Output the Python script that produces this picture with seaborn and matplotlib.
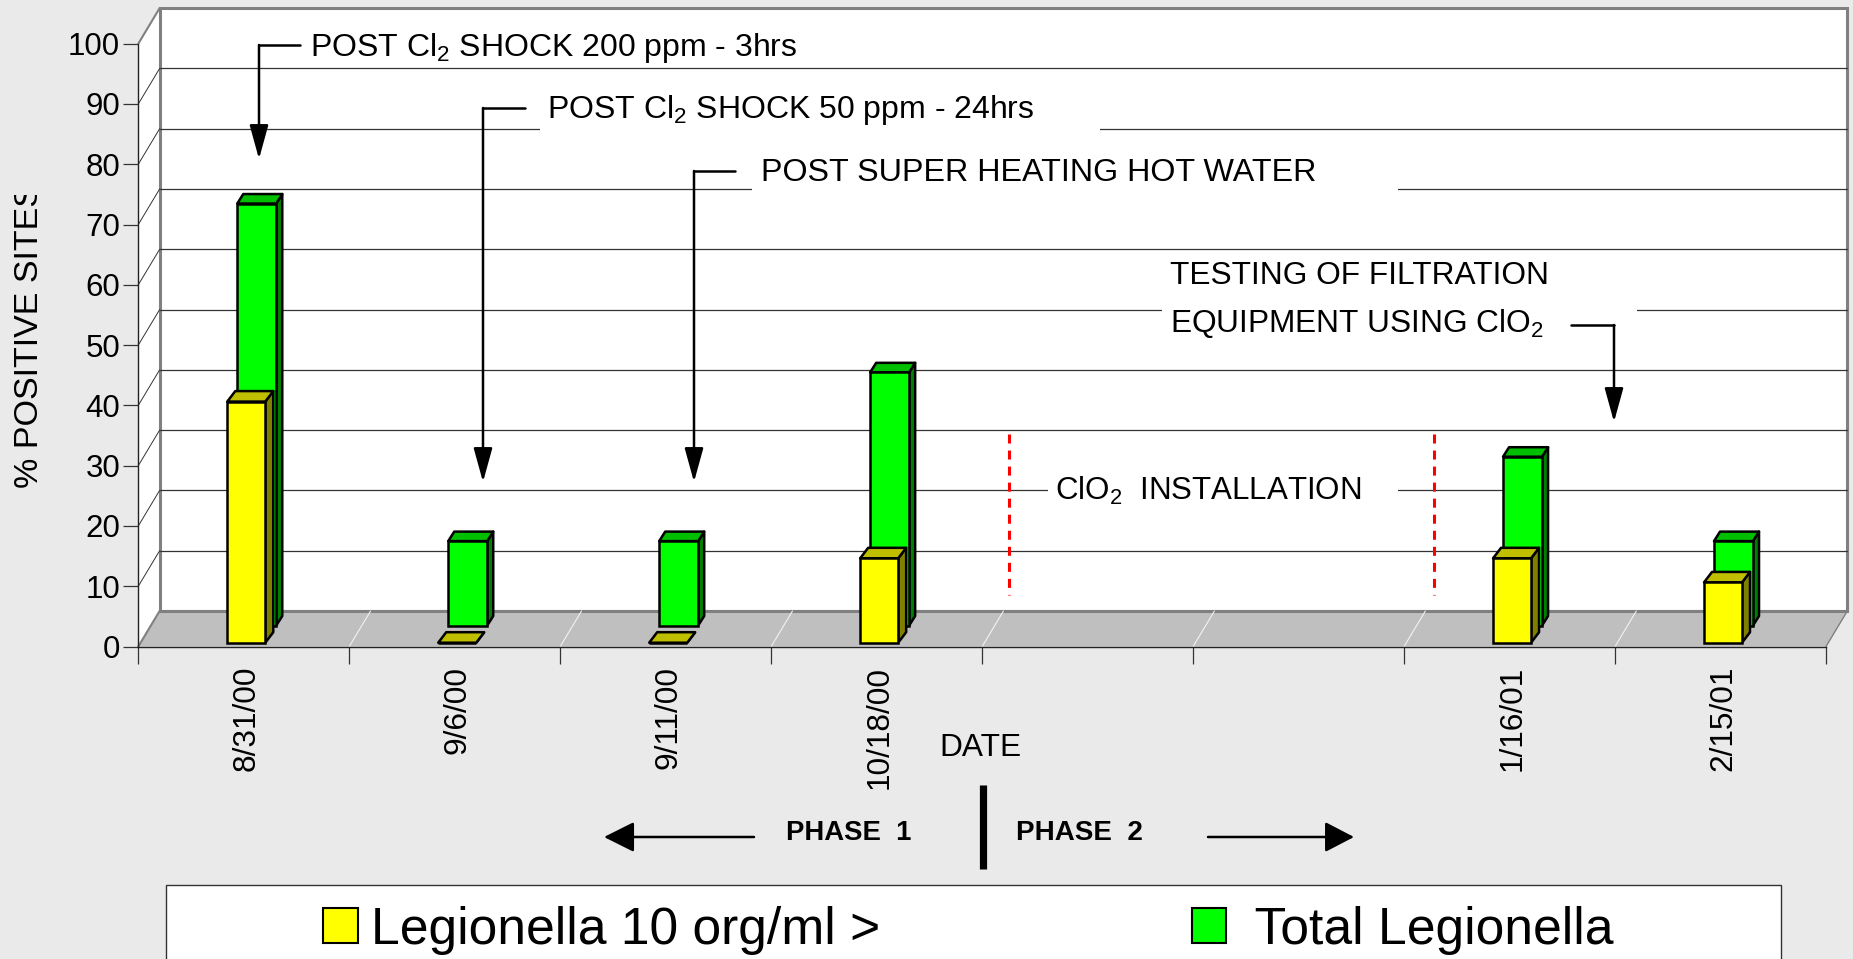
import numpy as np
import pandas as pd
import matplotlib
matplotlib.use('Agg')
import matplotlib.pyplot as plt
import seaborn as sns
from matplotlib.lines import Line2D
from matplotlib.patches import Patch, Polygon, Rectangle
from matplotlib.transforms import Affine2D, Bbox

# Chart values
dates = ['8/31/00', '9/6/00', '9/11/00', '10/18/00', ' ', '  ', '1/16/01', '2/15/01']
legionella_10 = [40, 0, 0, 14, np.nan, np.nan, 14, 10]
total_legionella = [70, 14, 14, 42, np.nan, np.nan, 28, 14]
y_ticks = [0, 10, 20, 30, 40, 50, 60, 70, 80, 90, 100]

W, H = 1853, 959
BG = '#EAEAEA'
# front plane of the fake 3d box, in pixels
LEFT, RIGHT, BOTTOM, TOP = 138.3, 1826.0, 646.5, 43.7
SLOT = (RIGHT - LEFT) / len(dates)
UNIT = (BOTTOM - TOP) / 100.0
DEPTH_X, DEPTH_Y = 21.3 / SLOT, 35.5 / UNIT

sns.set_theme(style='white')
plt.rcParams['font.family'] = ['Liberation Sans']
plt.rcParams['mathtext.default'] = 'regular'

fig = plt.figure(figsize=(W / 100, H / 100), dpi=100, facecolor=BG)
ax = fig.add_axes([LEFT / W, 1 - BOTTOM / H, (RIGHT - LEFT) / W, (BOTTOM - TOP) / H])
ax.patch.set_visible(False)
px = Affine2D().scale(1, -1).translate(0, H)  # pixel coords, origin top left


def bars_3d(values, color, side, top, width_px, shift_px, base_px, dx_px, dy_px, zorder):
    df = pd.DataFrame({'date': dates, 'value': values})
    n_before = len(ax.patches)
    sns.barplot(data=df, x='date', y='value', order=dates, color=color, saturation=1,
                width=width_px / SLOT, edgecolor='black', linewidth=1.8, errorbar=None,
                zorder=zorder, ax=ax)
    dx, dy = dx_px / SLOT, dy_px / UNIT
    for p in list(ax.patches[n_before:]):
        if not np.isfinite(p.get_height()):
            continue
        p.set_x(p.get_x() + shift_px / SLOT)
        p.set_y(base_px / UNIT)
        p.set_clip_on(False)
        x0, x1 = p.get_x(), p.get_x() + p.get_width()
        y0, y1 = p.get_y(), p.get_y() + p.get_height()
        ax.add_patch(Polygon([(x1, y0), (x1 + dx, y0 + dy), (x1 + dx, y1 + dy), (x1, y1)],
                             facecolor=side, edgecolor='black', lw=1.8, zorder=zorder,
                             joinstyle='round', clip_on=False))
        ax.add_patch(Polygon([(x0, y1), (x0 + dx, y1 + dy), (x1 + dx, y1 + dy), (x1, y1)],
                             facecolor=top, edgecolor='black', lw=1.8, zorder=zorder,
                             joinstyle='round', clip_on=False))
        p.set_zorder(zorder + 0.1)


bars_3d(total_legionella, '#00FF00', '#008000', '#00BF00', 39, 13, 21, 6, 9.5, 4)
bars_3d(legionella_10, '#FFFF00', '#808000', '#BFBF00', 38, 2.5, 3.8, 8, 10.5, 5)

ax.set_xlim(-0.5, len(dates) - 0.5)
ax.set_ylim(0, 100)

# walls and floor
x_a, x_b = -0.5, len(dates) - 0.5
ax.add_patch(Polygon([(x_a, 0), (x_a + DEPTH_X, DEPTH_Y), (x_a + DEPTH_X, 100 + DEPTH_Y), (x_a, 100)],
                     facecolor='white', edgecolor='none', zorder=0.5, clip_on=False))
ax.add_patch(Rectangle((x_a + DEPTH_X, DEPTH_Y), x_b - x_a, 100, facecolor='white',
                       edgecolor='#808080', lw=2.2, zorder=0.5, clip_on=False))
ax.add_patch(Polygon([(x_a, 0), (x_a + DEPTH_X, DEPTH_Y), (x_b + DEPTH_X, DEPTH_Y), (x_b, 0)],
                     facecolor='#BFBFBF', edgecolor='none', zorder=0.6, clip_on=False))
ax.plot([x_a + DEPTH_X, x_b + DEPTH_X], [DEPTH_Y, DEPTH_Y], color='#808080', lw=2.2, zorder=0.65, clip_on=False)
for v in y_ticks:
    if 0 < v < 100:
        ax.plot([x_a + DEPTH_X, x_b + DEPTH_X], [v + DEPTH_Y, v + DEPTH_Y], color='#333333', lw=0.9,
                zorder=0.7, clip_on=False)
        ax.plot([x_a, x_a + DEPTH_X], [v, v + DEPTH_Y], color='#333333', lw=0.7, zorder=0.7, clip_on=False)
ax.plot([x_a, x_a + DEPTH_X], [100, 100 + DEPTH_Y], color='#808080', lw=1.5, zorder=0.7, clip_on=False)
ax.plot([x_a, x_a + DEPTH_X], [0, DEPTH_Y], color='#808080', lw=1.5, zorder=0.7, clip_on=False)
ax.plot([x_b, x_b + DEPTH_X], [0, DEPTH_Y], color='#808080', lw=1, zorder=0.7, clip_on=False)
for k in range(1, len(dates)):
    ax.plot([k - 0.5, k - 0.5 + DEPTH_X], [0, DEPTH_Y], color='#F2F2F2', lw=0.8, zorder=0.7, clip_on=False)

# axes furniture
sns.despine(ax=ax, top=True, right=True)
for side in ['left', 'bottom']:
    ax.spines[side].set_visible(True)
    ax.spines[side].set_linewidth(1.0)
    ax.spines[side].set_color('#222222')
ax.set_yticks(y_ticks)
ax.set_yticklabels([str(v) for v in y_ticks], fontsize=22.5, color='black')
ax.tick_params(axis='y', left=True, length=11, width=0.9, color='#333333', pad=2)
ax.set_xticks(np.arange(len(dates) + 1) - 0.5)
ax.set_xticklabels([])
ax.set_xticks(np.arange(len(dates)) + 3 / SLOT, dates, minor=True)
ax.tick_params(axis='x', which='major', bottom=True, length=12.5, width=0.9, color='#333333')
ax.tick_params(axis='x', which='minor', bottom=False, length=0, pad=14, labelsize=22.8, labelrotation=90,
               labelcolor='black')
ax.set_xlabel('')
ax.set_ylabel('')


def label(x, y, s, size=23, ha='left', weight='normal', **kw):
    return fig.text(x, y, s, transform=px, fontsize=size, ha=ha, va='center', color='black',
                    fontweight=weight, **kw)


def line(xs, ys, **kw):
    kw.setdefault('color', 'black')
    kw.setdefault('lw', 1.8)
    fig.add_artist(Line2D(xs, ys, transform=px, **kw))


def arrow(start, end, head_len=29, head_w=8):
    ax.annotate('', xy=end, xytext=start, xycoords=px, textcoords=px, annotation_clip=False,
                arrowprops=dict(arrowstyle=f'-|>,head_length={head_len * 0.72},head_width={head_w * 0.72}',
                                color='black', lw=1.8, shrinkA=0, shrinkB=0, mutation_scale=1),
                zorder=8)


# white boxes behind the notes cut the wall grid lines
for x0, y0, x1, y1 in [(540, 88, 1100, 135), (752, 150, 1398, 195), (1162, 255, 1637, 320), (1048, 468, 1398, 510)]:
    fig.add_artist(Rectangle((x0, y0), x1 - x0, y1 - y0, transform=px, facecolor='white', edgecolor='none'))

# notes and leaders
label(310, 48, 'POST Cl$_2$ SHOCK 200 ppm - 3hrs')
line([300, 259], [45, 45])
arrow((259, 45), (259, 159))
label(547, 110, 'POST Cl$_2$ SHOCK 50 ppm - 24hrs')
line([525, 483], [108, 108])
arrow((483, 108), (483, 482))
label(761, 173, 'POST SUPER HEATING HOT WATER', size=23.2)
line([735, 694], [171, 171])
arrow((694, 171), (694, 482))
label(1170, 276, 'TESTING OF FILTRATION', size=22.8)
label(1170, 323, 'EQUIPMENT USING ClO$_2$', size=22.8)
line([1571, 1614], [325, 325])
arrow((1614, 325), (1614, 422))
label(1055, 491, 'ClO$_2$  INSTALLATION', size=22.5)
for x in [1009, 1433.5]:
    line([x, x], [434, 595], color='#FF0000', lw=2.2, linestyle=(0, (2.95, 2.3)))

label(980, 748, 'DATE', ha='center', size=22.8)

# phase markers
line([983, 983], [785, 869], lw=5.2, solid_capstyle='butt')
label(786, 833, 'PHASE  1', size=19.8, weight='bold')
label(1016, 833, 'PHASE  2', size=20, weight='bold')
arrow((754, 837), (604, 837), head_len=26, head_w=13)
arrow((1208, 837), (1354, 837), head_len=25, head_w=13)

# y label, its top end is cut off in the source
ylab = fig.text(30, 488, '% POSITIVE SITES', transform=px, rotation=90, fontsize=24.5, ha='center',
                va='bottom', color='black')
ylab.set_clip_box(Bbox([[0, 0], [W, H - 195]]))
ylab.set_clip_on(True)

# legend, box runs off the bottom of the figure
fig.add_artist(Rectangle((165.5, 885), 1615.5, 90, transform=px, facecolor='white', edgecolor='#333333', lw=1))
handles = [Patch(facecolor='#FFFF00', edgecolor='black', lw=1.5),
           Patch(facecolor='#00FF00', edgecolor='black', lw=1.5)]
leg = fig.legend(handles, ['Legionella 10 org/ml >', '\u2009\u200aTotal Legionella'], ncol=2, frameon=False,
                 loc='upper left', bbox_to_anchor=(323 / W, 1 - 906 / H), fontsize=37.2, borderpad=0,
                 borderaxespad=0, handlelength=0.67, handleheight=0.67, handletextpad=0.26,
                 columnspacing=6.03, labelcolor='black')

fig.savefig('out.png', dpi=100, facecolor=BG)
